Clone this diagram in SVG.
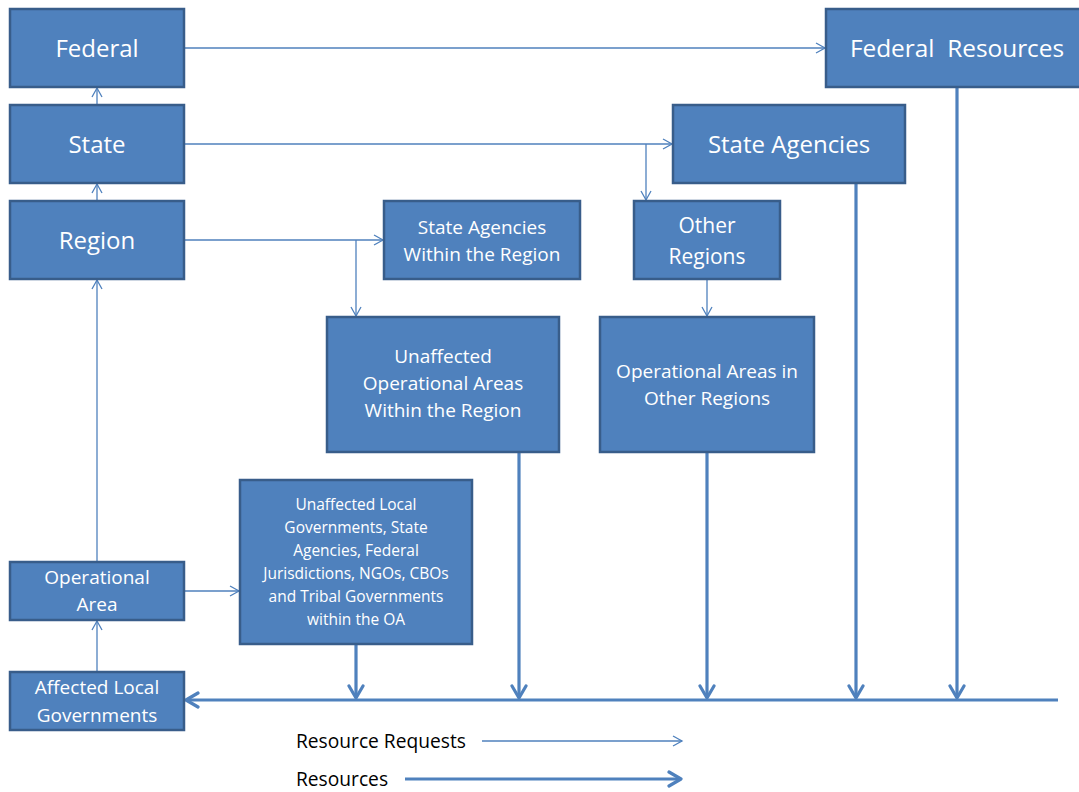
<svg xmlns="http://www.w3.org/2000/svg" width="1079" height="792" viewBox="0 0 1079 792">
<style>
.box{fill:#4F81BD;stroke:#385D8A;stroke-width:2.5}
.t{fill:#fff;font-family:"Open Sans",Lato,"Liberation Sans",sans-serif;text-anchor:middle}
.thin{stroke:#4F81BD;stroke-width:1.3;fill:none}
.thick{stroke:#4F81BD;stroke-width:3.2;fill:none}
.lg{fill:#000;font-family:"Open Sans",Lato,"Liberation Sans",sans-serif;font-size:19.2px}
</style>
<defs>
<marker id="ah" markerWidth="12" markerHeight="12" refX="10" refY="6" orient="auto" markerUnits="userSpaceOnUse"><path d="M1,1 L10,6 L1,11" fill="none" stroke="#4F81BD" stroke-width="1.3"/></marker>
<marker id="ahT" markerWidth="18" markerHeight="18" refX="14" refY="9" orient="auto" markerUnits="userSpaceOnUse"><path d="M2,2 L14,9 L2,16" fill="none" stroke="#4F81BD" stroke-width="3.2" stroke-linecap="round" stroke-linejoin="round"/></marker>
</defs>
<rect width="1079" height="792" fill="#fff"/>
<g id="connectors">
<path class="thin" d="M184,48 H825" marker-end="url(#ah)"/>
<path class="thin" d="M184,144 H672" marker-end="url(#ah)"/>
<path class="thin" d="M646,144 V200" marker-end="url(#ah)"/>
<path class="thin" d="M184,240 H383" marker-end="url(#ah)"/>
<path class="thin" d="M356,240 V316" marker-end="url(#ah)"/>
<path class="thin" d="M707,279 V316" marker-end="url(#ah)"/>
<path class="thin" d="M97,105 V88" marker-end="url(#ah)"/>
<path class="thin" d="M97,201 V184" marker-end="url(#ah)"/>
<path class="thin" d="M97,562 V280" marker-end="url(#ah)"/>
<path class="thin" d="M97,672 V621" marker-end="url(#ah)"/>
<path class="thin" d="M184,591 H239" marker-end="url(#ah)"/>
<path class="thick" d="M957,87 V698" marker-end="url(#ahT)"/>
<path class="thick" d="M856,183 V698" marker-end="url(#ahT)"/>
<path class="thick" d="M707,452 V698" marker-end="url(#ahT)"/>
<path class="thick" d="M519,452 V698" marker-end="url(#ahT)"/>
<path class="thick" d="M356,644 V698" marker-end="url(#ahT)"/>
<path class="thick" d="M1058,700 H186" marker-end="url(#ahT)"/>
<path class="thin" d="M482,741 H682" marker-end="url(#ah)"/>
<path class="thick" d="M405,779 H681" marker-end="url(#ahT)"/>
</g>
<g id="federal"><rect class="box" x="10" y="9" width="174" height="78"/><text class="t" x="97" y="57" font-size="24">Federal</text></g>
<g id="state"><rect class="box" x="10" y="105" width="174" height="78"/><text class="t" x="97" y="153" font-size="24">State</text></g>
<g id="region"><rect class="box" x="10" y="201" width="174" height="78"/><text class="t" x="97" y="249" font-size="24">Region</text></g>
<g id="federal-resources"><rect class="box" x="826" y="9" width="256" height="78"/><text class="t" x="957" y="57" font-size="24.4" xml:space="preserve">Federal  Resources</text></g>
<g id="state-agencies"><rect class="box" x="673" y="105" width="232" height="78"/><text class="t" x="789" y="153" font-size="24">State Agencies</text></g>
<g id="state-agencies-region"><rect class="box" x="384" y="201" width="196" height="78"/><text class="t" x="482" y="234" font-size="19">State Agencies</text><text class="t" x="482" y="261" font-size="19">Within the Region</text></g>
<g id="other-regions"><rect class="box" x="634" y="201" width="146" height="78"/><text class="t" x="707" y="233" font-size="21">Other</text><text class="t" x="707" y="264" font-size="21">Regions</text></g>
<g id="unaffected-oa"><rect class="box" x="327" y="317" width="232" height="135"/><text class="t" x="443" y="363" font-size="19">Unaffected</text><text class="t" x="443" y="390" font-size="19">Operational Areas</text><text class="t" x="443" y="417" font-size="19">Within the Region</text></g>
<g id="oa-other-regions"><rect class="box" x="600" y="317" width="214" height="135"/><text class="t" x="707" y="378" font-size="19">Operational Areas in</text><text class="t" x="707" y="405" font-size="19">Other Regions</text></g>
<g id="unaffected-local"><rect class="box" x="240" y="480" width="232" height="164"/>
<text class="t" x="356" y="510" font-size="15.5">Unaffected Local</text>
<text class="t" x="356" y="533" font-size="15.5">Governments, State</text>
<text class="t" x="356" y="556" font-size="15.5">Agencies, Federal</text>
<text class="t" x="356" y="579" font-size="15.5">Jurisdictions, NGOs, CBOs</text>
<text class="t" x="356" y="602" font-size="15.5">and Tribal Governments</text>
<text class="t" x="356" y="625" font-size="15.5">within the OA</text></g>
<g id="operational-area"><rect class="box" x="10" y="562" width="174" height="58"/><text class="t" x="97" y="584" font-size="19">Operational</text><text class="t" x="97" y="611" font-size="19">Area</text></g>
<g id="affected-local"><rect class="box" x="10" y="672" width="174" height="58"/><text class="t" x="97" y="694" font-size="19">Affected Local</text><text class="t" x="97" y="722" font-size="19">Governments</text></g>
<g id="legend"><text class="lg" x="296" y="748">Resource Requests</text><text class="lg" x="296" y="786">Resources</text></g>
</svg>
